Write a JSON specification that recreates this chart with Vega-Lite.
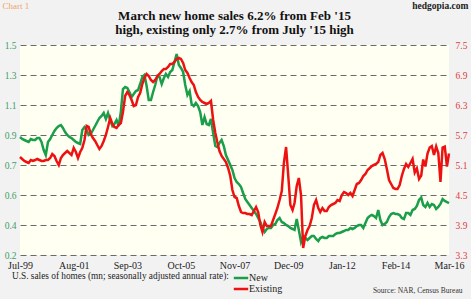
{
  "$schema": "https://vega.github.io/schema/vega-lite/v6.json",
  "width": 429,
  "height": 210,
  "autosize": {"type": "none"},
  "padding": {"left": 20, "top": 45, "right": 22, "bottom": 44},
  "background": "#f2f2f2",
  "view": {"fill": "#fffff2", "stroke": null},
  "title": {
    "text": ["March new home sales 6.2% from Feb '15", "high, existing only 2.7% from July '15 high"],
    "font": "Liberation Serif",
    "fontSize": 13,
    "fontWeight": "bold",
    "color": "#111111",
    "anchor": "middle",
    "lineHeight": 14,
    "offset": 9,
    "dy": 46
  },
  "data": {
    "values": [
      {"d":"1999/07/01","n":0.908,"e":5.26},{"d":"1999/08/01","n":0.896,"e":5.22},{"d":"1999/09/01","n":0.890,"e":5.18},{"d":"1999/10/01","n":0.884,"e":5.16},{"d":"1999/11/01","n":0.878,"e":5.14},{"d":"1999/12/01","n":0.896,"e":5.20},
      {"d":"2000/01/01","n":0.890,"e":5.18},{"d":"2000/02/01","n":0.890,"e":5.20},{"d":"2000/03/01","n":0.902,"e":5.22},{"d":"2000/04/01","n":0.902,"e":5.20},{"d":"2000/05/01","n":0.878,"e":5.18},{"d":"2000/06/01","n":0.830,"e":5.18},{"d":"2000/07/01","n":0.800,"e":5.20},{"d":"2000/08/01","n":0.878,"e":5.20},{"d":"2000/09/01","n":0.896,"e":5.24},{"d":"2000/10/01","n":0.920,"e":5.32},{"d":"2000/11/01","n":0.944,"e":5.28},{"d":"2000/12/01","n":0.962,"e":5.18},
      {"d":"2001/01/01","n":0.974,"e":5.10},{"d":"2001/02/01","n":0.980,"e":5.24},{"d":"2001/03/01","n":0.962,"e":5.30},{"d":"2001/04/01","n":0.938,"e":5.34},{"d":"2001/05/01","n":0.920,"e":5.38},{"d":"2001/06/01","n":0.908,"e":5.34},{"d":"2001/07/01","n":0.902,"e":5.30},{"d":"2001/08/01","n":0.890,"e":5.44},{"d":"2001/09/01","n":0.878,"e":5.36},{"d":"2001/10/01","n":0.872,"e":5.24},{"d":"2001/11/01","n":0.866,"e":5.36},{"d":"2001/12/01","n":0.950,"e":5.44},
      {"d":"2002/01/01","n":0.968,"e":5.60},{"d":"2002/02/01","n":0.950,"e":5.88},{"d":"2002/03/01","n":0.920,"e":5.86},{"d":"2002/04/01","n":0.926,"e":5.72},{"d":"2002/05/01","n":0.950,"e":5.64},{"d":"2002/06/01","n":0.974,"e":5.58},{"d":"2002/07/01","n":0.998,"e":5.50},{"d":"2002/08/01","n":1.022,"e":5.42},{"d":"2002/09/01","n":1.034,"e":5.48},{"d":"2002/10/01","n":1.052,"e":5.58},{"d":"2002/11/01","n":1.016,"e":5.70},{"d":"2002/12/01","n":1.052,"e":5.86},
      {"d":"2003/01/01","n":1.010,"e":6.04},{"d":"2003/02/01","n":0.974,"e":5.92},{"d":"2003/03/01","n":0.986,"e":5.86},{"d":"2003/04/01","n":1.010,"e":5.84},{"d":"2003/05/01","n":0.974,"e":5.90},{"d":"2003/06/01","n":1.058,"e":5.94},{"d":"2003/07/01","n":1.196,"e":6.16},{"d":"2003/08/01","n":1.208,"e":6.48},{"d":"2003/09/01","n":1.202,"e":6.56},{"d":"2003/10/01","n":1.178,"e":6.50},{"d":"2003/11/01","n":1.148,"e":6.40},{"d":"2003/12/01","n":1.166,"e":6.28},
      {"d":"2004/01/01","n":1.184,"e":6.30},{"d":"2004/02/01","n":1.190,"e":6.46},{"d":"2004/03/01","n":1.226,"e":6.54},{"d":"2004/04/01","n":1.268,"e":6.72},{"d":"2004/05/01","n":1.280,"e":6.84},{"d":"2004/06/01","n":1.214,"e":6.92},{"d":"2004/07/01","n":1.130,"e":6.88},{"d":"2004/08/01","n":1.130,"e":6.80},{"d":"2004/09/01","n":1.178,"e":6.76},{"d":"2004/10/01","n":1.220,"e":6.80},{"d":"2004/11/01","n":1.274,"e":6.88},{"d":"2004/12/01","n":1.268,"e":6.92},
      {"d":"2005/01/01","n":1.226,"e":6.98},{"d":"2005/02/01","n":1.262,"e":7.02},{"d":"2005/03/01","n":1.286,"e":7.02},{"d":"2005/04/01","n":1.268,"e":7.06},{"d":"2005/05/01","n":1.298,"e":7.12},{"d":"2005/06/01","n":1.310,"e":7.12},{"d":"2005/07/01","n":1.358,"e":7.16},{"d":"2005/08/01","n":1.406,"e":7.22},{"d":"2005/09/01","n":1.340,"e":7.24},{"d":"2005/10/01","n":1.322,"e":7.22},{"d":"2005/11/01","n":1.298,"e":7.14},{"d":"2005/12/01","n":1.220,"e":7.00},
      {"d":"2006/01/01","n":1.160,"e":6.94},{"d":"2006/02/01","n":1.184,"e":6.84},{"d":"2006/03/01","n":1.106,"e":6.76},{"d":"2006/04/01","n":1.094,"e":6.70},{"d":"2006/05/01","n":1.112,"e":6.56},{"d":"2006/06/01","n":1.094,"e":6.46},{"d":"2006/07/01","n":1.058,"e":6.40},{"d":"2006/08/01","n":0.980,"e":6.36},{"d":"2006/09/01","n":1.028,"e":6.34},{"d":"2006/10/01","n":0.986,"e":6.32},{"d":"2006/11/01","n":0.980,"e":6.34},{"d":"2006/12/01","n":1.016,"e":6.38},
      {"d":"2007/01/01","n":0.932,"e":6.00},{"d":"2007/02/01","n":0.854,"e":5.74},{"d":"2007/03/01","n":0.848,"e":5.56},{"d":"2007/04/01","n":0.872,"e":5.38},{"d":"2007/05/01","n":0.890,"e":5.28},{"d":"2007/06/01","n":0.854,"e":5.22},{"d":"2007/07/01","n":0.800,"e":5.16},{"d":"2007/08/01","n":0.770,"e":5.04},{"d":"2007/09/01","n":0.740,"e":4.88},{"d":"2007/10/01","n":0.710,"e":4.60},{"d":"2007/11/01","n":0.662,"e":4.46},{"d":"2007/12/01","n":0.638,"e":4.44},
      {"d":"2008/01/01","n":0.626,"e":4.28},{"d":"2008/02/01","n":0.608,"e":4.16},{"d":"2008/03/01","n":0.572,"e":4.14},{"d":"2008/04/01","n":0.536,"e":4.14},{"d":"2008/05/01","n":0.518,"e":4.12},{"d":"2008/06/01","n":0.500,"e":4.12},{"d":"2008/07/01","n":0.482,"e":4.10},{"d":"2008/08/01","n":0.464,"e":4.18},{"d":"2008/09/01","n":0.446,"e":4.26},{"d":"2008/10/01","n":0.422,"e":4.16},{"d":"2008/11/01","n":0.398,"e":3.90},{"d":"2008/12/01","n":0.362,"e":3.76},
      {"d":"2009/01/01","n":0.338,"e":3.96},{"d":"2009/02/01","n":0.356,"e":3.88},{"d":"2009/03/01","n":0.362,"e":3.88},{"d":"2009/04/01","n":0.362,"e":3.88},{"d":"2009/05/01","n":0.380,"e":4.00},{"d":"2009/06/01","n":0.386,"e":4.12},{"d":"2009/07/01","n":0.410,"e":4.24},{"d":"2009/08/01","n":0.422,"e":4.40},{"d":"2009/09/01","n":0.398,"e":4.58},{"d":"2009/10/01","n":0.392,"e":5.14},{"d":"2009/11/01","n":0.380,"e":5.46},{"d":"2009/12/01","n":0.374,"e":4.90},
      {"d":"2010/01/01","n":0.362,"e":4.30},{"d":"2010/02/01","n":0.356,"e":4.20},{"d":"2010/03/01","n":0.350,"e":4.34},{"d":"2010/04/01","n":0.416,"e":4.68},{"d":"2010/05/01","n":0.350,"e":4.84},{"d":"2010/06/01","n":0.278,"e":4.50},{"d":"2010/07/01","n":0.314,"e":3.44},{"d":"2010/08/01","n":0.302,"e":3.68},{"d":"2010/09/01","n":0.290,"e":3.80},{"d":"2010/10/01","n":0.302,"e":3.88},{"d":"2010/11/01","n":0.314,"e":4.04},{"d":"2010/12/01","n":0.314,"e":4.30},
      {"d":"2011/01/01","n":0.296,"e":4.40},{"d":"2011/02/01","n":0.284,"e":4.24},{"d":"2011/03/01","n":0.302,"e":4.16},{"d":"2011/04/01","n":0.308,"e":4.24},{"d":"2011/05/01","n":0.302,"e":4.18},{"d":"2011/06/01","n":0.302,"e":4.18},{"d":"2011/07/01","n":0.314,"e":4.26},{"d":"2011/08/01","n":0.314,"e":4.30},{"d":"2011/09/01","n":0.314,"e":4.32},{"d":"2011/10/01","n":0.326,"e":4.34},{"d":"2011/11/01","n":0.332,"e":4.40},{"d":"2011/12/01","n":0.332,"e":4.38},
      {"d":"2012/01/01","n":0.338,"e":4.50},{"d":"2012/02/01","n":0.344,"e":4.56},{"d":"2012/03/01","n":0.350,"e":4.54},{"d":"2012/04/01","n":0.350,"e":4.50},{"d":"2012/05/01","n":0.362,"e":4.54},{"d":"2012/06/01","n":0.356,"e":4.48},{"d":"2012/07/01","n":0.362,"e":4.60},{"d":"2012/08/01","n":0.374,"e":4.72},{"d":"2012/09/01","n":0.380,"e":4.74},{"d":"2012/10/01","n":0.380,"e":4.80},{"d":"2012/11/01","n":0.362,"e":4.88},{"d":"2012/12/01","n":0.392,"e":4.92},
      {"d":"2013/01/01","n":0.422,"e":5.00},{"d":"2013/02/01","n":0.434,"e":5.04},{"d":"2013/03/01","n":0.440,"e":5.08},{"d":"2013/04/01","n":0.434,"e":5.10},{"d":"2013/05/01","n":0.422,"e":5.12},{"d":"2013/06/01","n":0.470,"e":5.16},{"d":"2013/07/01","n":0.410,"e":5.30},{"d":"2013/08/01","n":0.380,"e":5.34},{"d":"2013/09/01","n":0.386,"e":5.22},{"d":"2013/10/01","n":0.398,"e":5.02},{"d":"2013/11/01","n":0.428,"e":4.80},{"d":"2013/12/01","n":0.446,"e":4.72},
      {"d":"2014/01/01","n":0.452,"e":4.64},{"d":"2014/02/01","n":0.446,"e":4.62},{"d":"2014/03/01","n":0.446,"e":4.62},{"d":"2014/04/01","n":0.440,"e":4.70},{"d":"2014/05/01","n":0.422,"e":4.88},{"d":"2014/06/01","n":0.416,"e":5.02},{"d":"2014/07/01","n":0.452,"e":5.12},{"d":"2014/08/01","n":0.452,"e":5.06},{"d":"2014/09/01","n":0.440,"e":5.14},{"d":"2014/10/01","n":0.470,"e":5.22},{"d":"2014/11/01","n":0.476,"e":4.95},{"d":"2014/12/01","n":0.494,"e":5.03},
      {"d":"2015/01/01","n":0.530,"e":4.82},{"d":"2015/02/01","n":0.545,"e":4.89},{"d":"2015/03/01","n":0.500,"e":5.21},{"d":"2015/04/01","n":0.488,"e":5.07},{"d":"2015/05/01","n":0.512,"e":5.33},{"d":"2015/06/01","n":0.488,"e":5.45},{"d":"2015/07/01","n":0.506,"e":5.48},{"d":"2015/08/01","n":0.500,"e":5.30},{"d":"2015/09/01","n":0.476,"e":5.47},{"d":"2015/10/01","n":0.488,"e":5.34},{"d":"2015/11/01","n":0.506,"e":4.76},{"d":"2015/12/01","n":0.536,"e":5.45},
      {"d":"2016/01/01","n":0.524,"e":5.47},{"d":"2016/02/01","n":0.518,"e":5.07},{"d":"2016/03/01","n":0.511,"e":5.33}
    ]
  },
  "encoding": {
    "x": {
      "field": "d",
      "type": "temporal",
      "scale": {"domain": [{"year": 1999, "month": 7, "date": 1}, {"year": 2016, "month": 3, "date": 1}]},
      "axis": {
        "values": [
          {"year": 1999, "month": 7, "date": 1}, {"year": 2001, "month": 8, "date": 1}, {"year": 2003, "month": 9, "date": 1},
          {"year": 2005, "month": 10, "date": 1}, {"year": 2007, "month": 11, "date": 1}, {"year": 2009, "month": 12, "date": 1},
          {"year": 2012, "month": 1, "date": 1}, {"year": 2014, "month": 2, "date": 1}, {"year": 2016, "month": 3, "date": 1}
        ],
        "format": "%b-%y",
        "labelFont": "Liberation Serif",
        "labelFontSize": 10,
        "labelColor": "#222222",
        "labelPadding": 5,
        "labelFlush": false,
        "labelOverlap": false,
        "domain": false,
        "ticks": false,
        "grid": false,
        "title": "Source: NAR, Census Bureau",
        "titleFont": "Liberation Serif",
        "titleFontSize": 7.5,
        "titleFontWeight": "normal",
        "titleColor": "#333333",
        "titleAlign": "right",
        "titleAnchor": null,
        "titleBaseline": "middle",
        "titleX": 442,
        "titleY": 35
      }
    }
  },
  "layer": [
    {
      "mark": {"type": "line", "strokeWidth": 2.5},
      "encoding": {
        "y": {
          "field": "n",
          "type": "quantitative",
          "scale": {"domain": [0.2, 1.46], "nice": false, "zero": false},
          "axis": {
            "orient": "left",
            "values": [0.2, 0.38, 0.56, 0.74, 0.92, 1.1, 1.28, 1.46],
            "format": ".1f",
            "labelFont": "Liberation Serif",
            "labelFontSize": 9.5,
            "labelColor": "#3a9e66",
            "labelPadding": 4,
            "domain": false,
            "ticks": false,
            "grid": true,
            "gridColor": "#6a6a6a",
            "gridDash": [6, 4],
            "gridWidth": 1,
            "title": "Chart 1",
            "titleAngle": 0,
            "titleFont": "Liberation Serif",
            "titleFontSize": 9,
            "titleFontWeight": "normal",
            "titleColor": "#f0a46c",
            "titleAlign": "left",
            "titleAnchor": null,
            "titleBaseline": "middle",
            "titleX": -18,
            "titleY": -40
          }
        },
        "color": {
          "datum": "New",
          "type": "nominal",
          "scale": {"domain": ["New", "Existing"], "range": ["#1a9e4a", "#ee1111"]},
          "legend": {
            "orient": "none",
            "legendX": -8,
            "legendY": 227,
            "direction": "vertical",
            "title": "U.S. sales of homes (mn; seasonally adjusted annual rate):",
            "titleOrient": "left",
            "titleLimit": 400,
            "titleFont": "Liberation Serif",
            "titleFontSize": 9.3,
            "titleFontWeight": "normal",
            "titleColor": "#222222",
            "titlePadding": 6,
            "titleBaseline": "top",
            "titleAnchor": "start",
            "labelFont": "Liberation Serif",
            "labelFontSize": 10,
            "labelColor": "#222222",
            "labelOffset": 2,
            "symbolType": "M-1.6,0H1.6",
            "symbolSize": 81,
            "symbolStrokeWidth": 2.5,
            "rowPadding": 0,
            "padding": 0
          }
        }
      }
    },
    {
      "mark": {"type": "line", "strokeWidth": 2.5},
      "encoding": {
        "y": {
          "field": "e",
          "type": "quantitative",
          "scale": {"domain": [3.3, 7.5], "nice": false, "zero": false},
          "axis": {
            "orient": "right",
            "values": [3.3, 3.9, 4.5, 5.1, 5.7, 6.3, 6.9, 7.5],
            "format": ".1f",
            "labelFont": "Liberation Serif",
            "labelFontSize": 9.5,
            "labelColor": "#e03a3a",
            "labelPadding": 6,
            "domain": false,
            "ticks": false,
            "grid": false,
            "title": "hedgopia.com",
            "titleAngle": 0,
            "titleFont": "Liberation Serif",
            "titleFontSize": 9.5,
            "titleFontWeight": "bold",
            "titleColor": "#222222",
            "titleAlign": "right",
            "titleAnchor": null,
            "titleBaseline": "middle",
            "titleX": 19,
            "titleY": -40
          }
        },
        "color": {"datum": "Existing", "type": "nominal"}
      }
    }
  ],
  "resolve": {"scale": {"y": "independent"}}
}
